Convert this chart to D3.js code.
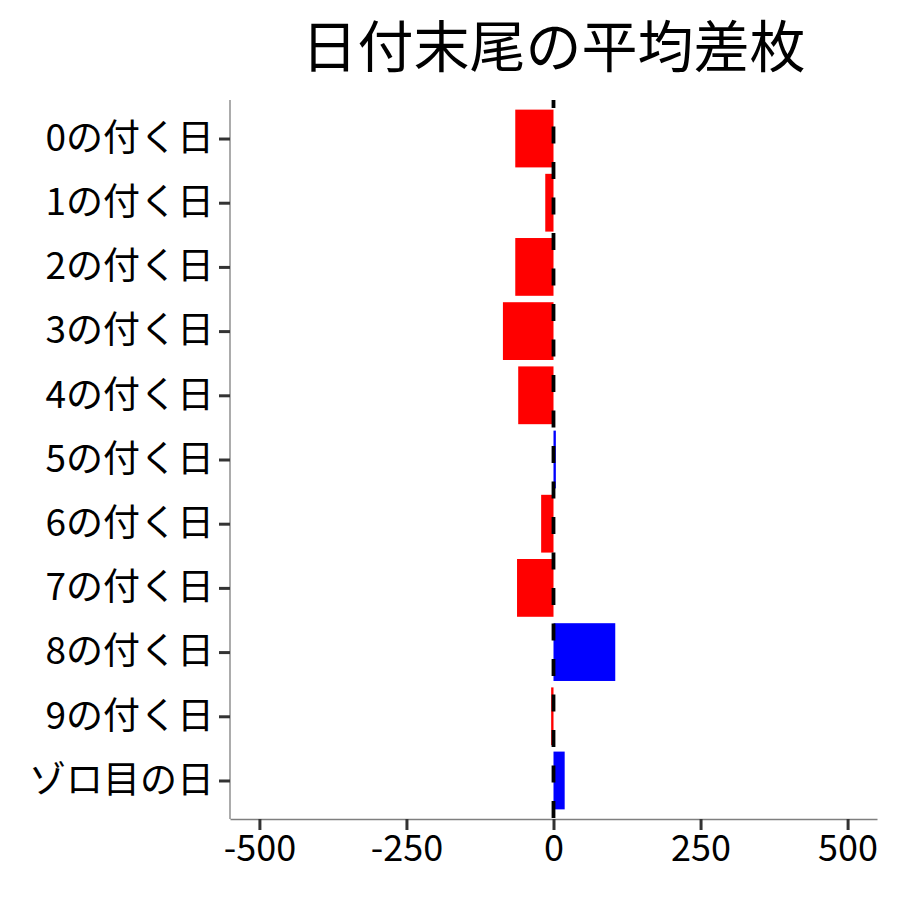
<!DOCTYPE html>
<html><head><meta charset="utf-8">
<script src="https://cdn.jsdelivr.net/npm/d3@7"></script>
<style>body{margin:0;background:#fff}svg{display:block}text{font-family:"Noto Sans CJK JP","Noto Sans",sans-serif}</style>
</head><body><svg id="c" width="900" height="900"></svg>
<script>
const categories = ["0の付く日","1の付く日","2の付く日","3の付く日","4の付く日","5の付く日","6の付く日","7の付く日","8の付く日","9の付く日","ゾロ目の日"];
const values = [-65, -14, -65, -86, -60, 4, -21, -62, 105, -4, 19];
const xTicks = [-500, -250, 0, 250, 500];
const title = "日付末尾の平均差枚";

const svg = d3.select("#c");
const L = 230, R = 877, T = 100, B = 819;
const x = d3.scaleLinear().domain([-550, 550]).range([L, R]);
const step = (B - T) / (categories.length - 1 + 1.2);
const y = d3.scalePoint().domain(categories).range([T + 0.6*step, B - 0.6*step]);
const bw = 0.9 * step;

svg.selectAll("rect.bar").data(categories).join("rect")
  .attr("class","bar")
  .attr("x", (d,i) => x(Math.min(0, values[i])))
  .attr("width", (d,i) => Math.abs(x(values[i]) - x(0)))
  .attr("y", d => y(d) - bw/2)
  .attr("height", bw)
  .attr("fill", (d,i) => values[i] < 0 ? "#ff0000" : "#0000ff");

svg.append("line").attr("x1", x(0)).attr("x2", x(0)).attr("y1", T).attr("y2", B)
  .attr("stroke","#000").attr("stroke-width",3.8).attr("stroke-dasharray","17,18.5").attr("stroke-dashoffset", 9);

// axes
const xa = svg.append("g").attr("transform",`translate(0,${B})`)
  .call(d3.axisBottom(x).tickValues(xTicks).tickSizeInner(11).tickSizeOuter(0).tickPadding(5).tickFormat(d => String(d)));
xa.select(".domain").attr("stroke","#7f7f7f").attr("stroke-width",1.3);
xa.selectAll(".tick line").attr("stroke","#333").attr("stroke-width",3);
xa.selectAll(".tick text").attr("font-size",36).attr("fill","#000").attr("font-family",'"Noto Sans CJK JP",sans-serif');

const ya = svg.append("g").attr("transform",`translate(${L},0)`)
  .call(d3.axisLeft(y).tickSizeInner(11).tickSizeOuter(0).tickPadding(5));
ya.select(".domain").attr("d", `M0,${T}V${B}`).attr("stroke","#7f7f7f").attr("stroke-width",1.3);
ya.selectAll(".tick line").attr("stroke","#333").attr("stroke-width",3);
ya.selectAll(".tick text").attr("font-size",37).attr("fill","#000").attr("font-family",'"Noto Sans CJK JP",sans-serif');

svg.append("text").attr("x", (L+R)/2).attr("y", 67).attr("text-anchor","middle")
  .attr("font-size",56).attr("fill","#000").text(title);
</script></body></html>
